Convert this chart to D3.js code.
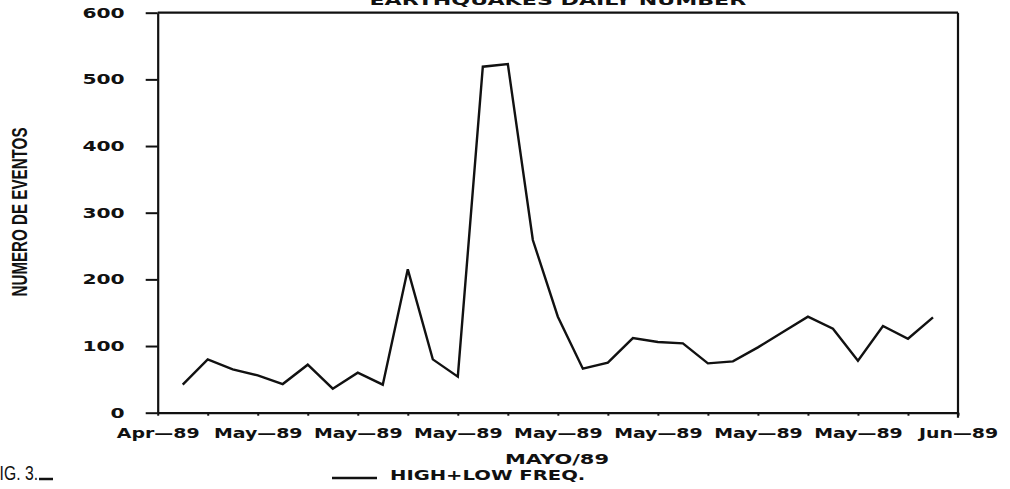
<!DOCTYPE html>
<html>
<head>
<meta charset="utf-8">
<script src="https://cdn.jsdelivr.net/npm/d3@7"></script>
<style>
  html, body { margin: 0; padding: 0; background: #fff; }
  svg { display: block; }
  text { fill: #111; }
</style>
</head>
<body>
<svg id="chart" width="1010" height="489"></svg>
<script>
// Daily earthquake counts, May 1989 (high + low frequency events)
const days = d3.range(1, 32).map(d => new Date(1989, 4, d));
const counts = [42, 80, 65, 56, 43, 72, 36, 60, 42, 215, 80, 54, 519, 523, 259, 144,
                66, 75, 112, 106, 104, 74, 77, 98, 121, 144, 126, 78, 130, 111, 143];
const yTicks = [0, 100, 200, 300, 400, 500, 600];
const xStart = new Date(1989, 3, 30);
const xEnd = new Date(1989, 5, 1);

const titleText = "EARTHQUAKES DAILY NUMBER";
const yTitle = "NUMERO DE EVENTOS";
const xTitle = "MAYO/89";
const legendText = "HIGH+LOW FREQ.";
const figText = "FIG. 3.";

const margin = { left: 157.7, right: 958, top: 12.7, bottom: 412.7 };
const svg = d3.select("#chart");

const x = d3.scaleTime().domain([xStart, xEnd]).range([margin.left, margin.right]);
const y = d3.scaleLinear().domain([0, 600]).range([margin.bottom, margin.top]);

const labelFont = "'DejaVu Sans', sans-serif";

// stretch glyphs horizontally to get the wide plotter lettering
function stretch(sel, factor) {
  sel.each(function () {
    const w = this.getComputedTextLength();
    if (w > 0) {
      d3.select(this).attr("textLength", w * factor).attr("lengthAdjust", "spacingAndGlyphs");
    }
  });
}

// x axis: ticks every two days, labels every four
const xTickVals = d3.timeDay.range(xStart, d3.timeDay.offset(xEnd, 1), 2);
const fmt = d3.timeFormat("%b");
const fmtY = d3.timeFormat("%y");
const xAxis = d3.axisBottom(x)
  .tickValues(xTickVals)
  .tickSize(3)
  .tickSizeOuter(0)
  .tickPadding(13)
  .tickFormat((d, i) => i % 2 === 0 ? fmt(d) + "\u2014" + fmtY(d) : "");

const gx = svg.append("g")
  .attr("transform", `translate(0,${margin.bottom})`)
  .call(xAxis);
gx.select(".domain").attr("stroke", "#111").attr("stroke-width", 2.2);
gx.selectAll(".tick line").attr("stroke", "#111").attr("stroke-width", 2);
gx.selectAll(".tick text")
  .attr("font-family", labelFont)
  .attr("font-weight", "bold")
  .attr("font-size", 13.5)
  .attr("fill", "#111")
  .call(stretch, 1.4);

// y axis
const yAxis = d3.axisLeft(y)
  .tickValues(yTicks)
  .tickSize(12)
  .tickSizeOuter(0)
  .tickPadding(21);
const gy = svg.append("g")
  .attr("transform", `translate(${margin.left},0)`)
  .call(yAxis);
gy.select(".domain").attr("stroke", "#111").attr("stroke-width", 2.2);
gy.selectAll(".tick line").attr("stroke", "#111").attr("stroke-width", 2);
gy.selectAll(".tick text")
  .attr("font-family", labelFont)
  .attr("font-weight", "bold")
  .attr("font-size", 13.5)
  .attr("fill", "#111")
  .call(stretch, 1.5);

// frame: top and right edges
svg.append("line")
  .attr("x1", margin.left).attr("x2", margin.right)
  .attr("y1", y(600)).attr("y2", y(600))
  .attr("stroke", "#111").attr("stroke-width", 2.2);
svg.append("line")
  .attr("x1", margin.right).attr("x2", margin.right)
  .attr("y1", y(600)).attr("y2", y(0) + 5)
  .attr("stroke", "#111").attr("stroke-width", 2.2);

// data line
const line = d3.line()
  .x((d, i) => x(days[i]))
  .y(d => y(d));
svg.append("path")
  .datum(counts)
  .attr("d", line)
  .attr("fill", "none")
  .attr("stroke", "#111")
  .attr("stroke-width", 2.4)
  .attr("stroke-linejoin", "miter");

// title (sits at the very top edge)
svg.append("text")
  .attr("x", (margin.left + margin.right) / 2)
  .attr("y", 5)
  .attr("text-anchor", "middle")
  .attr("font-family", labelFont)
  .attr("font-weight", "bold")
  .attr("font-size", 13.5)
  .text(titleText)
  .call(stretch, 1.64);

// y axis title
svg.append("text")
  .attr("transform", "translate(27,212) rotate(-90)")
  .attr("text-anchor", "middle")
  .attr("font-family", "'Liberation Sans', sans-serif")
  .attr("font-weight", "bold")
  .attr("font-size", 22)
  .attr("textLength", 169)
  .attr("lengthAdjust", "spacingAndGlyphs")
  .text(yTitle);

// x axis title
svg.append("text")
  .attr("x", 557)
  .attr("y", 464)
  .attr("text-anchor", "middle")
  .attr("font-family", labelFont)
  .attr("font-weight", "bold")
  .attr("font-size", 13.5)
  .text(xTitle)
  .call(stretch, 1.55);

// legend
svg.append("line")
  .attr("x1", 332).attr("x2", 377)
  .attr("y1", 478).attr("y2", 478)
  .attr("stroke", "#111").attr("stroke-width", 2.4);
svg.append("text")
  .attr("x", 390)
  .attr("y", 479.5)
  .attr("font-family", labelFont)
  .attr("font-weight", "bold")
  .attr("font-size", 13.5)
  .text(legendText)
  .call(stretch, 1.45);

// figure caption
svg.append("text")
  .attr("x", -10)
  .attr("y", 480)
  .attr("font-family", "'Liberation Sans', sans-serif")
  .attr("font-size", 20)
  .attr("textLength", 48)
  .attr("lengthAdjust", "spacingAndGlyphs")
  .text(figText);
svg.append("line")
  .attr("x1", 39).attr("x2", 53)
  .attr("y1", 479).attr("y2", 479)
  .attr("stroke", "#111").attr("stroke-width", 2.5);
</script>
</body>
</html>
